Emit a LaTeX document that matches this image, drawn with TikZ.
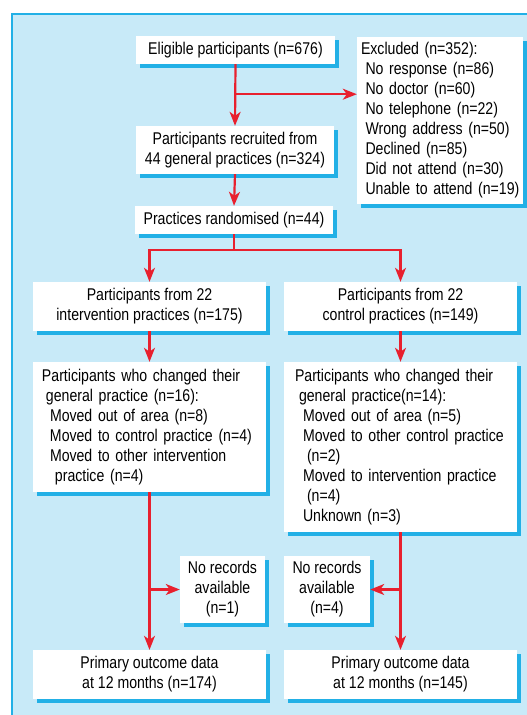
\documentclass[tikz,border=0pt]{standalone}
\usepackage{fontspec}
\setmainfont[FakeStretch=0.83]{Liberation Sans}
\usetikzlibrary{arrows.meta,calc,positioning,shadows}
\definecolor{panelblue}{HTML}{C8EAF8}
\definecolor{edgeblue}{HTML}{22B0E6}
\definecolor{flowred}{HTML}{E8202E}
\hyphenpenalty=10000
\tikzset{
  box/.style={fill=white,inner sep=0pt,align=center,
    font=\fontsize{17}{20}\selectfont,
    drop shadow={shadow xshift=3.5pt,shadow yshift=-3.5pt,fill=edgeblue,opacity=1}},
  listbox/.style={box,align=left,text width=#1},
  flow/.style={draw=flowred,line width=2.2pt},
}

\begin{document}
\begin{tikzpicture}[x=1pt,y=-1pt,>={Stealth[length=14pt,width=11pt,inset=4pt]}]
\useasboundingbox (0,0) rectangle (527,715);
\clip (0,0) rectangle (527,715);
\draw[edgeblue,line width=1.5pt,fill=panelblue] (12,14) rectangle (545,730);
\node[box,minimum width=199pt,minimum height=28pt] (elig) at (235.5,50) {Eligible participants (n=676)};
\node[listbox=166pt,minimum height=167pt] (excl) at (440,120.5)
  {\hspace*{4pt}Excluded (n=352):\\
   \hspace*{8.5pt}No response (n=86)\\
   \hspace*{8.5pt}No doctor (n=60)\\
   \hspace*{8.5pt}No telephone (n=22)\\
   \hspace*{8.5pt}Wrong address (n=50)\\
   \hspace*{8.5pt}Declined (n=85)\\
   \hspace*{8.5pt}Did not attend (n=30)\\
   \hspace*{8.5pt}Unable to attend (n=19)};
\node[box,minimum width=198pt,minimum height=48pt] (recr) at (235,150) {Participants recruited from\\44 general practices (n=324)};
\node[box,minimum width=198pt,minimum height=28pt] (rand) at (234,220) {Practices randomised (n=44)};
\node[box,minimum width=233pt,minimum height=49pt] (interv) at (149.5,306.5) {Participants from 22\\intervention practices (n=175)};
\node[box,minimum width=233pt,minimum height=49pt] (ctrl) at (400.5,306.5) {Participants from 22\\control practices (n=149)};
\node[listbox=233pt,minimum height=130pt] (chgL) at (149.5,427)
  {\hspace*{9pt}Participants who changed their\\
   \hspace*{13pt}general practice (n=16):\\
   \hspace*{17pt}Moved out of area (n=8)\\
   \hspace*{17pt}Moved to control practice (n=4)\\
   \hspace*{17pt}Moved to other intervention\\
   \hspace*{22pt}practice (n=4)};
\node[listbox=233pt,minimum height=170pt] (chgR) at (400.5,447)
  {\hspace*{11pt}Participants who changed their\\
   \hspace*{15pt}general practice(n=14):\\
   \hspace*{19pt}Moved out of area (n=5)\\
   \hspace*{19pt}Moved to other control practice\\
   \hspace*{23pt}(n=2)\\
   \hspace*{19pt}Moved to intervention practice\\
   \hspace*{23pt}(n=4)\\
   \hspace*{19pt}Unknown (n=3)};
\node[box,minimum width=85pt,minimum height=67pt] (norecL) at (222.5,589.5) {No records\\available\\(n=1)};
\node[box,minimum width=86pt,minimum height=67pt] (norecR) at (327,589.5) {No records\\available\\(n=4)};
\node[box,minimum width=233pt,minimum height=49pt] (outL) at (149.5,674.5) {Primary outcome data\\at 12 months (n=174)};
\node[box,minimum width=233pt,minimum height=49pt] (outR) at (400.5,674.5) {Primary outcome data\\at 12 months (n=145)};
\coordinate (split1) at ($(elig.south)+(0,30)$);
\draw[flow,->] (elig.south) -- (recr.north);
\draw[flow,->] (split1) -- (split1 -| excl.west);
\draw[flow,->] (recr.south) -- (rand.north);
\draw[flow,->] (rand.south) -- ++(0,16) -| (interv.north);
\draw[flow,->] (rand.south) -- ++(0,16) -| (ctrl.north);
\draw[flow,->] (interv.south) -- (chgL.north);
\draw[flow,->] (ctrl.south) -- (chgR.north);
\draw[flow,->] (chgL.south) -- (outL.north);
\draw[flow,->] (chgR.south) -- (outR.north);
\draw[flow,->] (chgL.south |- norecL.west) -- (norecL.west);
\draw[flow,->] (chgR.south |- norecR.east) -- (norecR.east);
\end{tikzpicture}
\end{document}
